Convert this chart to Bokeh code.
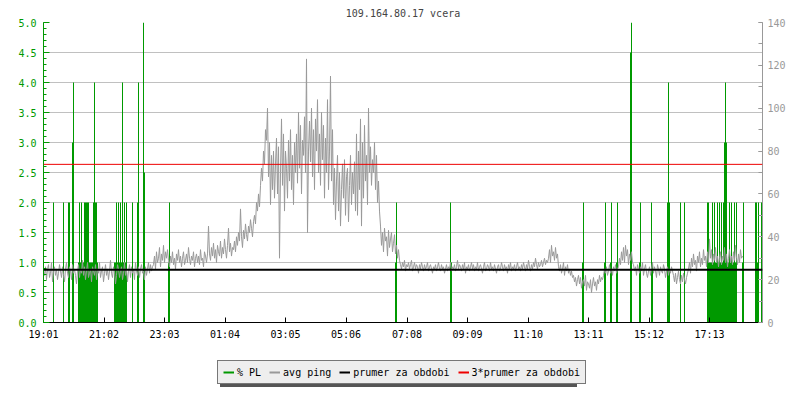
from bokeh.plotting import figure
from bokeh.layouts import column
from bokeh.models import (Range1d, LinearAxis, FixedTicker, PrintfTickFormatter,
                          Span, Legend, LegendItem, ColumnDataSource)
from bokeh.embed import file_html
from bokeh.resources import INLINE

FONT = "DejaVu Sans Mono"

title_text = "109.164.80.17 vcera"
start_label = "19:01"
x_tick_labels = ["19:01", "21:02", "23:03", "01:04", "03:05", "05:06",
                 "07:08", "09:09", "11:10", "13:11", "15:12", "17:13"]
pl_axis_ticks = [0.0, 0.5, 1.0, 1.5, 2.0, 2.5, 3.0, 3.5, 4.0, 4.5, 5.0]
ping_axis_ticks = [0, 20, 40, 60, 80, 100, 120, 140]

# packet loss [%] -- minutes after 19:01
pl_minute = [20, 40, 50, 52, 58, 60, 70, 72, 74, 76, 78, 80, 82, 84, 86, 88, 90,
             92, 94, 96, 98, 100, 102, 104, 106, 108,
             142, 144, 146, 148, 150, 152, 154, 156, 158, 160, 162, 164, 166,
             178, 188, 190, 200, 202, 250, 252,
             704, 706, 814, 816,
             1078, 1080, 1122, 1124, 1134, 1136, 1146, 1148, 1174, 1176,
             1192, 1194, 1216, 1218, 1248, 1250, 1252, 1274, 1282,
             1328, 1330, 1332, 1334, 1336, 1338, 1340, 1342, 1344, 1346, 1348,
             1350, 1352, 1354, 1356, 1358, 1360, 1362, 1364, 1366, 1368, 1370,
             1372, 1374, 1376, 1378, 1380, 1382, 1384, 1386,
             1398, 1400, 1424, 1426, 1428, 1430, 1436]
pl_value = [2.0, 2.0, 2.0, 2.0, 3.0, 4.0, 1.0, 2.0, 1.0, 2.0, 1.0, 1.0, 2.0, 2.0, 2.0, 2.0, 2.0,
            1.0, 1.0, 1.0, 1.0, 2.0, 4.0, 2.0, 2.0, 1.0,
            1.0, 1.0, 2.0, 1.0, 2.0, 1.0, 2.0, 1.0, 4.0, 1.0, 2.0, 1.0, 2.0,
            2.0, 2.0, 4.0, 5.0, 2.5, 1.0, 2.0,
            1.0, 2.0, 2.0, 1.0,
            1.0, 2.0, 1.0, 2.0, 1.0, 2.0, 1.0, 2.0, 4.5, 5.0,
            1.0, 2.0, 2.0, 1.0, 2.0, 4.0, 2.0, 2.0, 2.0,
            2.0, 2.0, 1.0, 1.0, 1.0, 2.0, 1.0, 2.0, 1.0, 1.0, 2.0,
            1.0, 2.0, 1.0, 2.0, 1.0, 2.0, 3.0, 4.0, 3.0, 1.0, 1.0,
            2.0, 1.0, 2.0, 1.0, 1.0, 2.0, 1.0, 2.0,
            1.0, 2.0, 2.0, 2.0, 1.0, 2.0, 2.0]

# average ping [ms], one value every 2 minutes from 19:01
ping_step_min = 2
ping_ms = [
    # 19:01 - 22:39
    24, 22, 26, 20, 25, 27, 21, 23, 28, 19, 24, 26, 22, 25, 20, 23, 27, 24, 21, 26,
    22, 19, 25, 28, 23, 21, 26, 24, 20, 27, 23, 25, 22, 18, 24, 27, 21, 25, 23, 29,
    22, 26, 20, 24, 28, 21, 23, 25, 19, 26, 24, 22, 27, 20, 25, 23, 28, 21, 24, 26,
    19, 23, 27, 22, 25, 20, 24, 29, 23, 21, 26, 24, 18, 22, 27, 25, 21, 24, 26, 20,
    23, 28, 22, 25, 19, 24, 27, 21, 26, 23, 25, 20, 28, 24, 22, 26, 21, 25, 27, 23,
    24, 20, 26, 22, 25, 28, 23, 27, 24, 26,
    # 22:41 - 23:09
    27, 31, 25, 33, 28, 30, 35, 26, 32, 29, 36, 28, 33, 30, 34,
    # 23:11 - 00:29
    29, 26, 31, 28, 33, 27, 30, 25, 32, 29, 34, 28, 31, 26, 30, 33, 27, 29, 32, 28,
    35, 30, 27, 31, 29, 33, 26, 30, 32, 28, 31, 27, 34, 29, 30, 26, 33, 31, 28, 32,
    # 00:31 - 01:19
    45, 32, 29, 35, 31, 37, 30, 34, 28, 36, 33, 31, 38, 30, 35, 32, 39, 34, 30, 36,
    44, 33, 37, 31, 35,
    # 01:21 - 02:01
    34, 38, 33, 40, 36, 42, 38, 53, 40, 35, 43, 39, 46, 41, 38, 45, 42, 48, 44, 40, 47,
    # 02:03 - 02:29
    50, 46, 56, 52, 60, 54, 64, 72, 66, 80, 74, 90, 85, 100,
    # 02:31 - 06:13
    68, 84, 55, 78, 62, 80, 58, 74,
    86, 60, 82, 30, 70, 95, 64, 88, 52, 80,
    72, 58, 85, 66, 90, 62, 78, 55, 84, 70,
    88, 65, 98, 72, 92, 60, 85, 78, 96, 70, 123, 42, 80, 94,
    75, 100, 68, 90, 62, 95, 80, 104, 70, 88, 64, 98, 76,
    92, 58, 86, 70, 104, 62, 80, 115, 66, 90,
    55, 72, 48, 66, 78, 52, 70, 45, 62, 74,
    58, 76, 50, 68, 72, 47, 64, 78, 55, 70, 60, 75, 52,
    88, 50, 80, 62, 95, 45, 84, 58, 92, 66, 78, 55, 100, 70,
    82, 64, 76, 70, 84, 62, 78, 56, 66, 52,
    # 06:15 - 06:53
    45, 36, 42, 33, 44, 38, 40, 31, 43, 35, 39, 42, 33, 37, 41, 32, 36, 30, 34, 29,
    # 06:55 - 12:29
    27, 25, 28, 26, 29, 24, 27, 26, 28, 25, 27, 29, 24, 26, 28, 25, 27, 26, 23, 27,
    25, 28, 26, 24, 27, 25, 26, 28, 24, 26, 27, 25, 23, 26, 25, 27, 24, 26, 28, 25,
    24, 27, 25, 26, 23, 25, 27, 24, 26, 25, 28, 24, 26, 25, 27, 24, 26, 29, 25, 27,
    26, 24, 27, 25, 28, 23, 26, 25, 27, 24, 26, 28, 25, 27, 24, 26, 25, 28, 24, 26,
    27, 25, 23, 26, 28, 24, 25, 27, 26, 24, 28, 25, 26, 24, 27, 25, 23, 26, 27, 24,
    25, 28, 26, 24, 27, 25, 26, 23, 27, 25, 28, 24, 26, 25, 27, 24, 26, 28, 25, 26,
    24, 27, 25, 28, 26, 24, 27, 25, 29, 26, 24, 27, 25, 28, 26, 30, 27, 25, 28, 26,
    27, 29, 26, 28, 30, 27, 29, 28,
    # 12:31 - 12:49
    30, 34, 28, 36, 31, 33, 29, 35, 30, 32,
    # 12:51 - 13:19
    26, 24, 27, 23, 25, 28, 22, 26, 24, 27, 23, 25, 22, 24, 21,
    # 13:21 - 14:19
    22, 19, 21, 17, 20, 22, 18, 21, 16, 19, 20, 17, 22, 15, 19, 18, 16, 20, 14, 18,
    21, 17, 19, 15, 20, 18, 22, 19, 21, 20,
    # 14:21 - 14:49
    22, 25, 23, 26, 22, 24, 27, 23, 25, 22, 26, 24, 27, 23, 25,
    # 14:51 - 15:19
    26, 30, 27, 33, 29, 35, 28, 36, 31, 34, 27, 32, 29, 33, 28,
    # 15:21 - 16:39
    27, 24, 26, 22, 27, 25, 23, 26, 24, 28, 22, 25, 27, 23, 21, 24, 26, 22, 25, 28,
    23, 26, 24, 21, 27, 25, 22, 26, 24, 23, 27, 25, 21, 24, 26, 22, 25, 23, 26, 24,
    # 16:41 - 17:09
    22, 19, 23, 18, 21, 24, 20, 18, 22, 19, 23, 20, 18, 21, 23,
    # 17:11 - 18:59
    25, 28, 23, 30, 26, 32, 27, 29, 24, 31, 28, 33, 26, 30, 27, 34, 29, 31, 26, 33,
    28, 39, 30, 34, 27, 32, 29, 35, 28, 31, 26, 30, 33, 27, 31, 29, 35, 28, 32, 26,
    30, 34, 28, 31, 27, 33, 29, 36, 30, 27, 32, 28, 34, 30, 31,
]
avg_ping_ms = 24.6

legend_labels = ["% PL", "avg ping", "prumer za obdobi", "3*prumer za obdobi"]
GREEN = "#009900"
GRAY = "#999999"
RED = "#ee0000"


def hhmm_to_offset(s):
    h, m = map(int, s.split(":"))
    sh, sm = map(int, start_label.split(":"))
    return ((h * 60 + m) - (sh * 60 + sm)) % 1440


x_ticks = [hhmm_to_offset(s) for s in x_tick_labels]
ping_minute = [i * ping_step_min for i in range(len(ping_ms))]

p = figure(frame_width=719, frame_height=300, output_backend="svg",
           toolbar_location=None, x_range=Range1d(0, 1438), y_range=Range1d(0, 5),
           min_border_left=43, min_border_right=22, min_border_top=22,
           min_border_bottom=34, title=title_text)
p.outline_line_color = None
p.background_fill_color = "white"
p.border_fill_color = "white"
p.title.align = "center"
p.title.text_font = FONT
p.title.text_font_size = "10px"
p.title.text_font_style = "normal"
p.title.standoff = 7

p.extra_y_ranges = {"ping": Range1d(0, 140)}

# grid
p.xgrid.visible = False
p.ygrid.ticker = FixedTicker(ticks=pl_axis_ticks)
p.ygrid.grid_line_color = "#c0c0c0"
p.ygrid.grid_line_width = 1

# left axis (% PL)
ya = p.yaxis[0]
ya.ticker = FixedTicker(ticks=pl_axis_ticks,
                        minor_ticks=[i / 10 for i in range(0, 51)])
ya.formatter = PrintfTickFormatter(format="%.1f")
ya.axis_line_color = GREEN
ya.major_tick_line_color = GREEN
ya.minor_tick_line_color = GREEN
ya.major_tick_in = 6
ya.major_tick_out = 0
ya.minor_tick_in = 3
ya.minor_tick_out = 0
ya.major_label_text_color = GREEN
ya.major_label_text_font = FONT
ya.major_label_text_font_size = "10px"
ya.major_label_standoff = 7

# right axis (ping ms)
ra = LinearAxis(y_range_name="ping")
ra.ticker = FixedTicker(ticks=ping_axis_ticks, minor_ticks=list(range(0, 141, 10)))
ra.axis_line_color = GRAY
ra.major_tick_line_color = GRAY
ra.minor_tick_line_color = GRAY
ra.major_tick_in = 4
ra.major_tick_out = 0
ra.minor_tick_in = 4
ra.minor_tick_out = 0
ra.major_label_text_color = GRAY
ra.major_label_text_font = FONT
ra.major_label_text_font_size = "10px"
ra.major_label_standoff = 5
p.add_layout(ra, "right")

# bottom axis
xa = p.xaxis[0]
xa.ticker = FixedTicker(ticks=x_ticks)
xa.major_label_overrides = {t: s for t, s in zip(x_ticks, x_tick_labels)}
xa.axis_line_color = "black"
xa.major_tick_line_color = "black"
xa.major_tick_in = 5
xa.major_tick_out = 0
xa.minor_tick_line_color = None
xa.major_label_text_color = "black"
xa.major_label_text_font = FONT
xa.major_label_text_font_size = "10px"
xa.major_label_standoff = 6

# packet loss bars
pl_src = ColumnDataSource(dict(x=pl_minute, top=pl_value))
p.vbar(x="x", top="top", bottom=0, width=2, source=pl_src,
       fill_color=GREEN, line_color=None)

# ping line
ping_src = ColumnDataSource(dict(x=ping_minute, y=ping_ms))
p.line(x="x", y="y", source=ping_src, y_range_name="ping",
       line_color=GRAY, line_width=1)

# average lines
p.add_layout(Span(location=avg_ping_ms, dimension="width", y_range_name="ping",
                  line_color="black", line_width=2))
p.add_layout(Span(location=3 * avg_ping_ms, dimension="width", y_range_name="ping",
                  line_color=RED, line_width=1))

# legend strip below the chart
lf = figure(width=784, height=32, output_backend="svg", toolbar_location=None,
            x_range=Range1d(0, 1), y_range=Range1d(0, 1),
            x_axis_location=None, y_axis_location=None, min_border=0)
lf.grid.visible = False
lf.outline_line_color = None
lf.background_fill_color = "white"
lf.border_fill_color = "white"

leg_colors = [GREEN, GRAY, "black", RED]
# off-range points: these renderers only supply the legend swatches
leg_rends = [lf.line(x=[-5, -4], y=[-5, -4], line_color=c, line_width=2)
             for c in leg_colors]
shadow_rend = lf.line(x=[-5, -4], y=[-5, -4], line_alpha=0)

common = dict(orientation="horizontal", glyph_height=12, label_standoff=3,
              padding=5, margin=0, label_text_font=FONT,
              label_text_font_size="10px", label_height=12)

# drop shadow: one blank item as wide as the real legend
shadow = Legend(items=[LegendItem(label="", renderers=[shadow_rend])],
                glyph_width=334, label_width=20, location=(177, 1),
                background_fill_color="#555555", background_fill_alpha=1,
                border_line_color=None, **common)
main_leg = Legend(items=[LegendItem(label=l, renderers=[r])
                         for l, r in zip(legend_labels, leg_rends)],
                  glyph_width=11, spacing=8, location=(174, 4),
                  background_fill_color="#eeeeee", background_fill_alpha=1,
                  border_line_color="black", border_line_width=1,
                  label_text_color="black", **common)
lf.add_layout(shadow, "center")
lf.add_layout(main_leg, "center")

layout = column(p, lf, spacing=0)
open("out.html", "w").write(file_html(layout, INLINE))
